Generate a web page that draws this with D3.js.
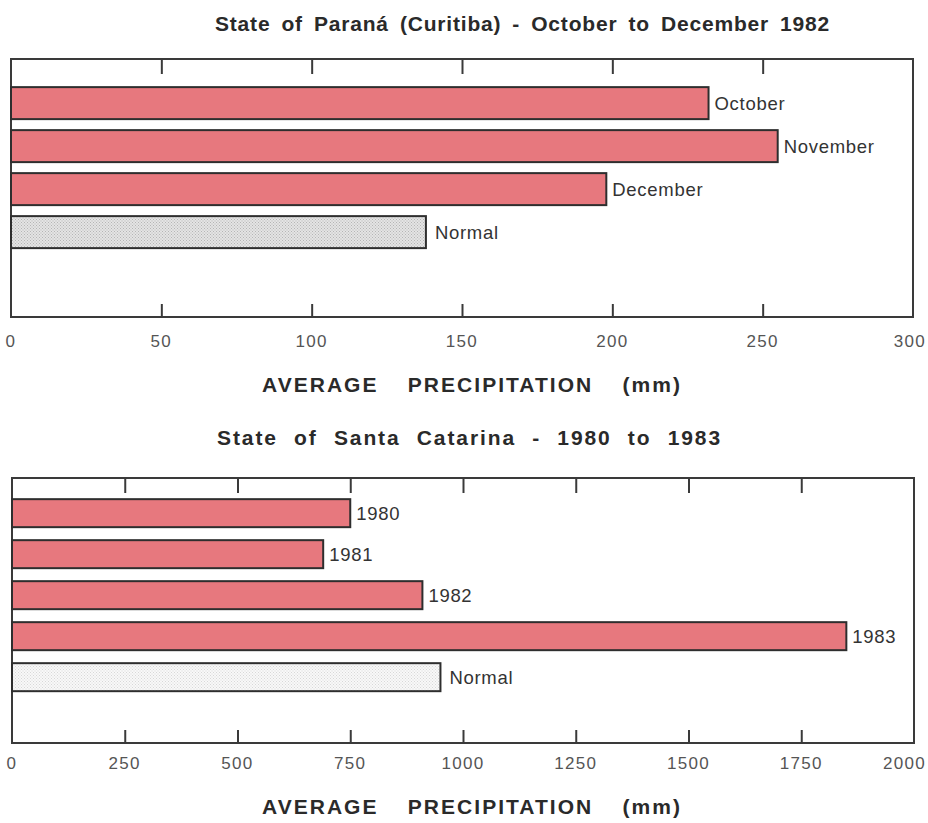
<!DOCTYPE html>
<html>
<head>
<meta charset="utf-8">
<script src="https://cdn.jsdelivr.net/npm/d3@7"></script>
<style>
  body { margin: 0; background: #fff; }
  svg { display: block; font-family: "Liberation Sans", Arial, sans-serif; }
  .title { font-weight: bold; fill: #2a2a2a; }
  .tick-label { fill: #555; }
  .bar-label { fill: #333; }
</style>
</head>
<body>
<div id="chart"></div>
<script>
// Paraná (Curitiba), Oct-Dec 1982
const paranaCategories = ['October', 'November', 'December', 'Normal'];
const paranaValues = [232, 255, 198, 138];
const paranaTicks = [0, 50, 100, 150, 200, 250, 300];

// Santa Catarina, 1980-1983
const catarinaCategories = ['1980', '1981', '1982', '1983', 'Normal'];
const catarinaValues = [750, 690, 910, 1850, 950];
const catarinaTicks = [0, 250, 500, 750, 1000, 1250, 1500, 1750, 2000];

const width = 928, height = 823;

const svg = d3.select("#chart")
    .append("svg")
    .attr("width", width)
    .attr("height", height);

// stipple patterns for the "Normal" bars
const defs = svg.append("defs");
const addStipple = (id, bg, dot) => {
    const p = defs.append("pattern")
        .attr("id", id)
        .attr("width", 3)
        .attr("height", 3)
        .attr("patternUnits", "userSpaceOnUse");
    p.append("rect").attr("width", 3).attr("height", 3).attr("fill", bg);
    p.append("rect").attr("width", 1).attr("height", 1).attr("fill", dot);
    p.append("rect").attr("x", 1.5).attr("y", 1.5).attr("width", 1).attr("height", 1).attr("fill", dot);
};
addStipple("stippleDark", "#e4e4e4", "#b5b5b5");
addStipple("stippleLight", "#f8f8f8", "#d8d8d8");

// bold heading, spread out (letters + word gaps) so it spans [x0, x1] like the scan
const heading = (g, text, x0, x1, yPos) => {
    const t = g.append("text")
        .attr("class", "title")
        .attr("x", (x0 + x1) / 2)
        .attr("y", yPos)
        .attr("text-anchor", "middle")
        .attr("font-size", 21)
        .text(text);
    const gaps = text.split(" ").length - 1;
    const extra = Math.max(0, x1 - x0 - t.node().getComputedTextLength());
    t.attr("letter-spacing", extra * 0.55 / text.length)
        .attr("word-spacing", extra * 0.45 / gaps);
};

const drawChart = (cfg) => {
    const { categories, values, ticks, title, titleSpan, left, right, top, bottom,
        inner, outer, align, normalFill, titleY, tickY, axisTitleY } = cfg;

    const g = svg.append("g");

    const x = d3.scaleLinear()
        .domain([ticks[0], ticks[ticks.length - 1]])
        .range([left, right]);

    const y = d3.scaleBand()
        .domain(categories)
        .range([top, bottom])
        .paddingInner(inner)
        .paddingOuter(outer)
        .align(align);

    heading(g, title, titleSpan[0], titleSpan[1], titleY);

    // frame
    g.append("rect")
        .attr("x", left)
        .attr("y", top)
        .attr("width", right - left)
        .attr("height", bottom - top)
        .attr("fill", "none")
        .attr("stroke", "#3a3a3a")
        .attr("stroke-width", 2);

    // inward ticks on top and bottom
    const bottomAxis = d3.axisTop(x)
        .tickValues(ticks.slice(1, -1))
        .tickSize(13)
        .tickFormat("");
    g.append("g")
        .attr("transform", `translate(0,${bottom})`)
        .call(bottomAxis)
        .call(a => a.select(".domain").remove())
        .call(a => a.selectAll("line").attr("stroke", "#3a3a3a").attr("stroke-width", 2));

    const topAxis = d3.axisBottom(x)
        .tickValues(ticks.slice(1, -1))
        .tickSize(15)
        .tickFormat("");
    g.append("g")
        .attr("transform", `translate(0,${top})`)
        .call(topAxis)
        .call(a => a.select(".domain").remove())
        .call(a => a.selectAll("line").attr("stroke", "#3a3a3a").attr("stroke-width", 2));

    // tick labels
    const last = ticks[ticks.length - 1];
    g.selectAll(".tick-label")
        .data(ticks)
        .join("text")
        .attr("class", "tick-label")
        .attr("x", d => d === last ? width - 2 : x(d))
        .attr("y", tickY)
        .attr("text-anchor", d => d === last ? "end" : "middle")
        .attr("font-size", 17)
        .attr("letter-spacing", 1.3)
        .text(d => d);

    heading(g, "AVERAGE PRECIPITATION (mm)", 262, 682, axisTitleY);

    const data = categories.map((c, i) => ({ c, v: values[i] }));

    g.selectAll(".bar")
        .data(data)
        .join("rect")
        .attr("class", "bar")
        .attr("x", x(0))
        .attr("y", d => y(d.c))
        .attr("width", d => x(d.v) - x(0))
        .attr("height", y.bandwidth())
        .attr("fill", d => d.c === 'Normal' ? normalFill : "#e7787e")
        .attr("stroke", "#2e2e2e")
        .attr("stroke-width", 2);

    g.selectAll(".bar-label")
        .data(data)
        .join("text")
        .attr("class", "bar-label")
        .attr("x", d => x(d.v) + (d.c === 'Normal' ? 9 : 6))
        .attr("y", d => y(d.c) + y.bandwidth() / 2)
        .attr("dy", "0.35em")
        .attr("font-size", 18.5)
        .attr("letter-spacing", 0.7)
        .text(d => d.c);
};

drawChart({
    categories: paranaCategories,
    values: paranaValues,
    ticks: paranaTicks,
    title: "State of Paraná (Curitiba) - October to December 1982",
    titleSpan: [215, 830],
    left: 11, right: 913, top: 59, bottom: 317,
    inner: 0.256, outer: 1.128, align: 0.29,
    normalFill: "url(#stippleDark)",
    titleY: 31, tickY: 347, axisTitleY: 392
});

drawChart({
    categories: catarinaCategories,
    values: catarinaValues,
    ticks: catarinaTicks,
    title: "State of Santa Catarina - 1980 to 1983",
    titleSpan: [217, 722],
    left: 12, right: 914, top: 478, bottom: 743,
    inner: 0.317, outer: 0.89, align: 0.29,
    normalFill: "url(#stippleLight)",
    titleY: 445, tickY: 769, axisTitleY: 814
});
</script>
</body>
</html>
